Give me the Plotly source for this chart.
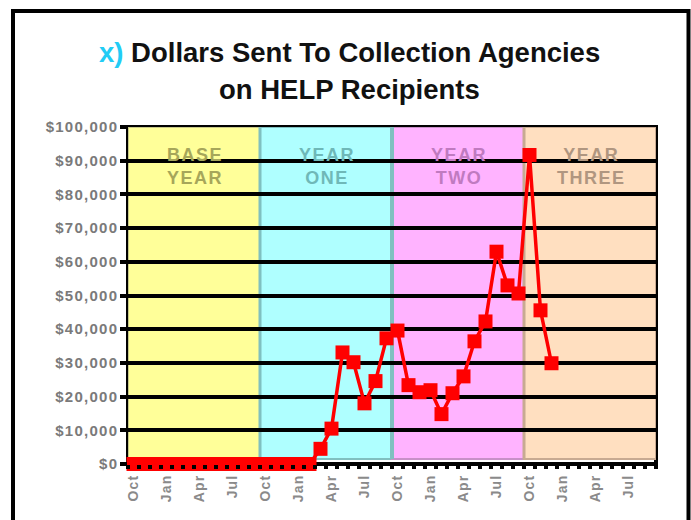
import plotly.graph_objects as go

# ---- data ----
months = ["Oct", "Nov", "Dec", "Jan", "Feb", "Mar", "Apr", "May", "Jun", "Jul", "Aug", "Sep"] * 4
dollars = ([0] * 17 +
           [4500, 10500, 33100, 30200, 18000, 24600, 37300, 39600, 23400, 21300, 21900,
            14800, 21000, 26000, 36400, 42300, 63000, 53000, 50600, 91700, 45600, 29900] +
           [None] * 9)
y_tick_values = [0, 10000, 20000, 30000, 40000, 50000, 60000, 70000, 80000, 90000, 100000]
y_tick_labels = ["$0", "$10,000", "$20,000", "$30,000", "$40,000", "$50,000",
                 "$60,000", "$70,000", "$80,000", "$90,000", "$100,000"]
band_labels = ["BASE<br>YEAR", "YEAR<br>ONE", "YEAR<br>TWO", "YEAR<br>THREE"]
band_start = [0, 12, 24, 36]
band_len = 12
band_fill = ["#FFFF99", "#AFFFFF", "#FFB3FF", "#FFDFC0"]
band_edge = ["#C8C888", "#80C0C0", "#C890C8", "#C8AA92"]
band_text = ["#A6A65A", "#6FB8B8", "#C07AC0", "#B09680"]

x = list(range(len(months)))
tick_idx = [i for i, m in enumerate(months) if m in ("Oct", "Jan", "Apr", "Jul")]
tick_txt = [months[i] for i in tick_idx]

HAIR = "\u200A"
def spaced(s, sep=HAIR):
    return sep.join(list(s))

fig = go.Figure()
fig.add_trace(go.Scatter(
    x=x, y=dollars, mode="lines+markers",
    line=dict(color="#FF0000", width=3.5),
    marker=dict(symbol="square", size=14, color="#FF0000"),
    cliponaxis=False, connectgaps=False, hoverinfo="skip", showlegend=False))

shapes = []
annotations = []
for i in range(len(band_labels)):
    x0 = band_start[i] - 0.5
    x1 = band_start[i] + band_len - 0.5
    shapes.append(dict(type="rect", xref="x", yref="y", x0=x0, x1=x1, y0=1500, y1=100000,
                       fillcolor=band_fill[i], line=dict(color=band_edge[i], width=2),
                       layer="below"))
    lbl = "<br>".join(spaced(p) for p in band_labels[i].split("<br>"))
    annotations.append(dict(xref="x", yref="y", x=(x0 + x1) / 2, y=88300, text=lbl,
                            showarrow=False,
                            font=dict(family="Liberation Sans", size=18, color=band_text[i],
                                      weight="bold")))
# boundary strips between bands
for i in range(1, len(band_start)):
    shapes.append(dict(type="line", xref="x", yref="y", x0=band_start[i] - 0.5,
                       x1=band_start[i] - 0.5, y0=1500, y1=100000,
                       line=dict(color=band_edge[i - 1] if i == 2 else band_edge[i], width=4 if i == 2 else 3),
                       layer="below"))
# plot area border
shapes.append(dict(type="rect", xref="paper", yref="paper", x0=0, x1=1, y0=0, y1=1,
                   line=dict(color="black", width=4), layer="between"))
# outer frame
shapes.append(dict(type="rect", xref="paper", yref="paper",
                   x0=(13 - 128) / 528, x1=(688.5 - 128) / 528,
                   y0=(464 - 560) / 337, y1=(464 - 11) / 337,
                   line=dict(color="black", width=4), layer="above"))

annotations.append(dict(xref="paper", yref="paper", x=(349 - 128) / 528, y=(464 - 53) / 337,
                        text="<span style='color:#22CCF5'>x)</span> Dollars Sent To Collection Agencies",
                        showarrow=False, yanchor="middle",
                        font=dict(family="Liberation Sans", size=27.5, color="#111111", weight="bold")))
annotations.append(dict(xref="paper", yref="paper", x=(349 - 128) / 528, y=(464 - 89) / 337,
                        text="on HELP Recipients", showarrow=False, yanchor="middle",
                        font=dict(family="Liberation Sans", size=27.5, color="#111111", weight="bold")))

fig.update_layout(
    width=691, height=520,
    margin=dict(l=128, r=35, t=127, b=56, autoexpand=False),
    paper_bgcolor="white", plot_bgcolor="white",
    template="none",
    shapes=shapes, annotations=annotations,
    xaxis=dict(range=[-0.5, len(months) - 0.5], tickmode="array", tickvals=tick_idx,
               ticktext=[spaced(t) for t in tick_txt], tickangle=-90, ticks="",
               ticklabelstandoff=8,
               showgrid=False, zeroline=False, showline=False, automargin=False,
               tickfont=dict(family="Liberation Sans", size=14, color="#8a8a8a", weight="bold"),
               minor=dict(tickmode="linear", tick0=-0.5, dtick=1, ticks="outside",
                          ticklen=4, tickwidth=4, tickcolor="black", showgrid=False)),
    yaxis=dict(range=[0, 100000], tickmode="array", tickvals=y_tick_values,
               ticktext=[spaced(t) for t in y_tick_labels], ticks="outside", ticklen=7,
               tickwidth=3.5, tickcolor="black", showgrid=True, gridcolor="black",
               gridwidth=3.5, zeroline=False, showline=False, automargin=False,
               tickfont=dict(family="Liberation Sans", size=15, color="#7a7a7a", weight="bold")),
)

fig.write_html("out.html", config={"displayModeBar": False},
               post_script="document.body.style.margin='0';")
